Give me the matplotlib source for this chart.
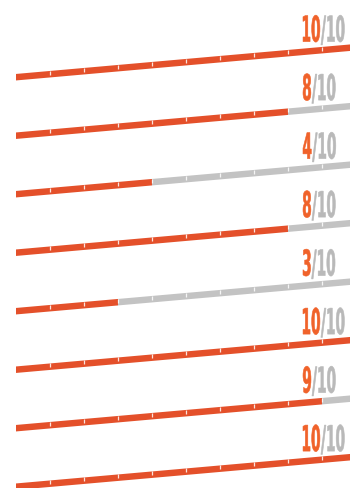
import matplotlib.pyplot as plt
from matplotlib.patches import Polygon, PathPatch
from matplotlib.textpath import TextPath
from matplotlib.font_manager import FontProperties
from matplotlib.transforms import Affine2D

# scores out of 10, top to bottom
scores = [10, 8, 4, 8, 3, 10, 9, 10]
out_of = 10

orange = '#e4502a'
grey = '#c3c3c3'
label_orange = '#f0622a'
label_grey = '#b9b9b9'

fig = plt.figure(figsize=(3.5, 4.88), dpi=100)
ax = fig.add_axes([0, 0, 1, 1])
ax.set_xlim(0, 350)
ax.set_ylim(488, 0)
ax.axis('off')

x_start = 16
seg_w = 34
slope = 0.0883
thick = 6.5
row_gap = 58.5
y_first = 77.2

fp = FontProperties(family=['Liberation Sans Narrow', 'DejaVu Sans'], weight='bold')
ref = TextPath((0, 0), '0', size=100, prop=fp).get_extents()
sy = 27 / ref.height
# squeeze horizontally so "/10" is about 23 px wide
sx = 23.5 / TextPath((0, 0), '/10', size=100, prop=fp).get_extents().width


def center_y(y0, x):
    return y0 - slope * (x - x_start)


def draw_label(x, base, s, color):
    tp = TextPath((0, 0), s, size=100, prop=fp)
    ext = tp.get_extents()
    tr = Affine2D().translate(-ext.x0, 0).scale(sx, -sy).translate(x, base)
    ax.add_patch(PathPatch(tr.transform_path(tp), fc=color, ec=color, lw=0.4))
    return x + ext.width * sx


for i, sc in enumerate(scores):
    y0 = y_first + i * row_gap
    for k in range(out_of):
        xa = x_start + k * seg_w
        xb = xa + seg_w
        ya, yb = center_y(y0, xa), center_y(y0, xb)
        col = orange if k < sc else grey
        ax.add_patch(Polygon([(xa, ya - thick / 2), (xb, yb - thick / 2),
                              (xb, yb + thick / 2), (xa, ya + thick / 2)],
                             closed=True, fc=col, ec='none'))
        if k > 0:
            ax.plot([xa, xa], [ya - thick / 2, ya + 0.8], color='white',
                    lw=0.9, alpha=0.85, solid_capstyle='butt')

    base = center_y(y0, 320) - thick / 2 - 5.5
    xn = draw_label(303, base, str(sc), label_orange)
    draw_label(xn + 1, base, '/' + str(out_of), label_grey)

fig.savefig('out.png', dpi=100)
